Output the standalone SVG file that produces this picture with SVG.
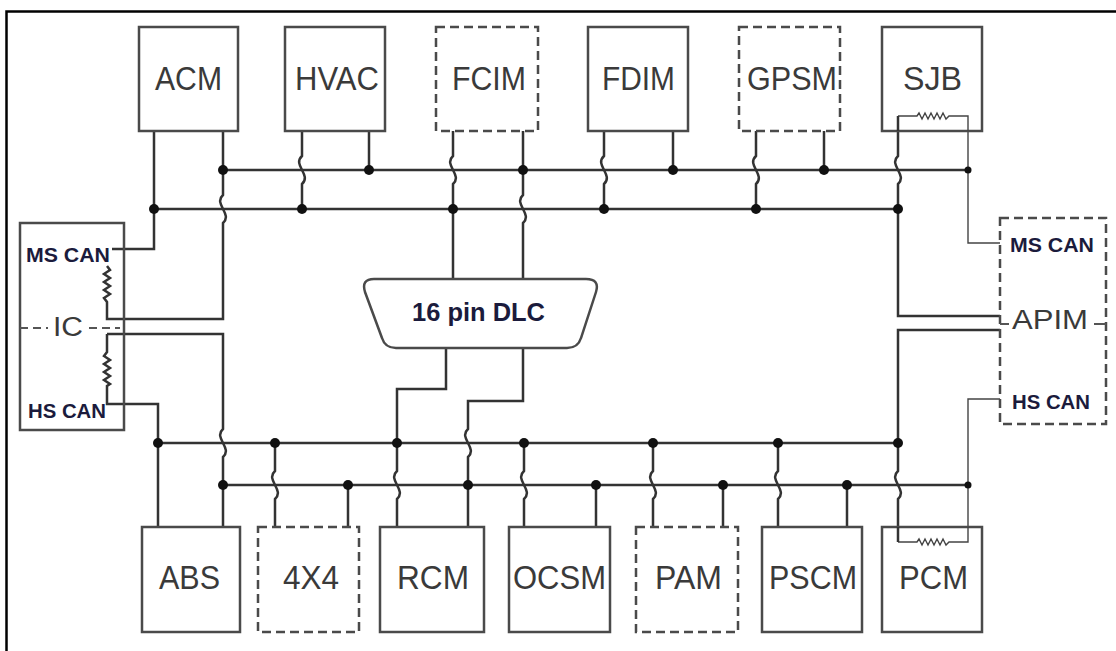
<svg xmlns="http://www.w3.org/2000/svg" width="1116" height="651" viewBox="0 0 1116 651">
<style>
.box{fill:#fff;stroke:#4a4a4a;stroke-width:2.5}
.dash{stroke-dasharray:9 5}
.w{fill:none;stroke:#333;stroke-width:2.5;stroke-linejoin:miter}
.thin{fill:none;stroke:#444;stroke-width:1.4}
.lbl{font-family:"Liberation Sans",Arial,sans-serif;fill:#3a3a3a}
.can{font-family:"Liberation Sans",Arial,sans-serif;font-weight:bold;font-size:20px;fill:#1b1b3c}
.dot{fill:#111}
</style>
<rect x="0" y="0" width="1116" height="651" fill="#fff"/>
<path d="M6.5,651 V11.5 H1116" fill="none" stroke="#000" stroke-width="2.5"/>

<g id="connectors">
  <!-- buses -->
  <path class="w" d="M223,170 H968"/>
  <path class="w" d="M154,209 H898"/>
  <path class="w" d="M158,443 H898"/>
  <path class="w" d="M223,485 H968"/>
  <!-- top legs -->
  <path class="w" d="M154,131 V249 H112"/>
  <path class="w" d="M223,131 V195 C213,204 233,214 223,223 V319 H107 V302 L104,298 L110,294 L104,290 L110,286 L104,282 L110,278 L104,274 L110,270 L107,266"/>
  <path class="w" d="M302,131 V156 C292,165 312,175 302,184 V209"/>
  <path class="w" d="M369,131 V170"/>
  <path class="w" d="M453,131 V156 C443,165 463,175 453,184 V279"/>
  <path class="w" d="M523,131 V195 C513,204 533,214 523,223 V279"/>
  <path class="w" d="M604,131 V156 C594,165 614,175 604,184 V209"/>
  <path class="w" d="M673,131 V170"/>
  <path class="w" d="M756,131 V156 C746,165 766,175 756,184 V209"/>
  <path class="w" d="M824,131 V170"/>
  <path class="w" d="M898,116 V156 C888,165 908,175 898,184 V316 H1000"/>
  <path class="thin" d="M898,116 H917 L919,113 L922,119 L925,113 L928,119 L931,113 L934,119 L937,113 L940,119 L943,113 L946,119 L949,116 H968 V243 H1000"/>
  <!-- bottom legs -->
  <path class="w" d="M107,334 V352 L104,356 L110,360 L104,364 L110,368 L104,372 L110,376 L104,380 L110,384 L107,386 V404 H158 V527"/>
  <path class="w" d="M107,334 H223 V429 C213,438 233,448 223,457 V527"/>
  <path class="w" d="M275,443 V471 C265,480 285,490 275,499 V527"/>
  <path class="w" d="M348,485 V527"/>
  <path class="w" d="M446,348 V389 H397 V471 C387,480 407,490 397,499 V527"/>
  <path class="w" d="M523,348 V401 H468 V429 C458,438 478,448 468,457 V527"/>
  <path class="w" d="M524,443 V471 C514,480 534,490 524,499 V527"/>
  <path class="w" d="M596,485 V527"/>
  <path class="w" d="M653,443 V471 C643,480 663,490 653,499 V527"/>
  <path class="w" d="M723,485 V527"/>
  <path class="w" d="M778,443 V471 C768,480 788,490 778,499 V527"/>
  <path class="w" d="M847,485 V527"/>
  <path class="w" d="M1000,330 H898 V471 C888,480 908,490 898,499 V542"/>
  <path class="thin" d="M898,542 H917 L919,539 L922,545 L925,539 L928,545 L931,539 L934,545 L937,539 L940,545 L943,539 L946,545 L949,542 H968 V399 H1000"/>
  <!-- junction dots -->
  <g class="dot">
    <circle cx="223" cy="170" r="5"/><circle cx="369" cy="170" r="5"/><circle cx="523" cy="170" r="5"/>
    <circle cx="673" cy="170" r="5"/><circle cx="824" cy="170" r="5"/><circle cx="968" cy="170" r="3.5"/>
    <circle cx="154" cy="209" r="5"/><circle cx="302" cy="209" r="5"/><circle cx="453" cy="209" r="5"/>
    <circle cx="604" cy="209" r="5"/><circle cx="756" cy="209" r="5"/><circle cx="898" cy="209" r="5"/>
    <circle cx="158" cy="443" r="5"/><circle cx="275" cy="443" r="5"/><circle cx="397" cy="443" r="5"/>
    <circle cx="524" cy="443" r="5"/><circle cx="653" cy="443" r="5"/><circle cx="778" cy="443" r="5"/>
    <circle cx="898" cy="443" r="5"/>
    <circle cx="223" cy="485" r="5"/><circle cx="348" cy="485" r="5"/><circle cx="468" cy="485" r="5"/>
    <circle cx="596" cy="485" r="5"/><circle cx="723" cy="485" r="5"/><circle cx="847" cy="485" r="5"/>
    <circle cx="968" cy="485" r="3.5"/>
  </g>
</g>

<g id="ACM"><rect class="box" x="139" y="27" width="99" height="104"/><text class="lbl" x="155" y="89.5" font-size="34" textLength="67" lengthAdjust="spacingAndGlyphs">ACM</text></g>
<g id="HVAC"><rect class="box" x="285" y="27" width="100" height="104"/><text class="lbl" x="295" y="89.5" font-size="34" textLength="84" lengthAdjust="spacingAndGlyphs">HVAC</text></g>
<g id="FCIM"><rect class="box dash" x="436" y="27" width="102" height="104"/><text class="lbl" x="452" y="89.5" font-size="34" textLength="74" lengthAdjust="spacingAndGlyphs">FCIM</text></g>
<g id="FDIM"><rect class="box" x="588" y="27" width="100" height="104"/><text class="lbl" x="602" y="89.5" font-size="34" textLength="73" lengthAdjust="spacingAndGlyphs">FDIM</text></g>
<g id="GPSM"><rect class="box dash" x="739" y="27" width="101" height="104"/><text class="lbl" x="747" y="89.5" font-size="34" textLength="90" lengthAdjust="spacingAndGlyphs">GPSM</text></g>
<g id="SJB"><rect class="box" x="882" y="27" width="100" height="104"/><text class="lbl" x="903" y="89.5" font-size="34" textLength="59" lengthAdjust="spacingAndGlyphs">SJB</text></g>
<!-- re-draw SJB resistor on top of box fill -->
<path class="thin" d="M898,116 H917 L919,113 L922,119 L925,113 L928,119 L931,113 L934,119 L937,113 L940,119 L943,113 L946,119 L949,116 H968 V131"/>
<path class="w" d="M898,116 V131"/>

<g id="ABS"><rect class="box" x="142" y="527" width="98" height="105"/><text class="lbl" x="159" y="589" font-size="33" textLength="61" lengthAdjust="spacingAndGlyphs">ABS</text></g>
<g id="4X4"><rect class="box dash" x="258" y="527" width="101" height="105"/><text class="lbl" x="283" y="589" font-size="33" textLength="56" lengthAdjust="spacingAndGlyphs">4X4</text></g>
<g id="RCM"><rect class="box" x="380" y="527" width="104" height="105"/><text class="lbl" x="397" y="589" font-size="33" textLength="72" lengthAdjust="spacingAndGlyphs">RCM</text></g>
<g id="OCSM"><rect class="box" x="509" y="527" width="101" height="105"/><text class="lbl" x="513" y="589" font-size="33" textLength="93" lengthAdjust="spacingAndGlyphs">OCSM</text></g>
<g id="PAM"><rect class="box dash" x="636" y="527" width="102" height="105"/><text class="lbl" x="655" y="589" font-size="33" textLength="67" lengthAdjust="spacingAndGlyphs">PAM</text></g>
<g id="PSCM"><rect class="box" x="762" y="527" width="100" height="105"/><text class="lbl" x="769" y="589" font-size="33" textLength="88" lengthAdjust="spacingAndGlyphs">PSCM</text></g>
<g id="PCM"><rect class="box" x="882" y="527" width="100" height="105"/><text class="lbl" x="899" y="589" font-size="33" textLength="69" lengthAdjust="spacingAndGlyphs">PCM</text></g>
<!-- PCM resistor drawn over box -->
<path class="thin" d="M898,542 H917 L919,539 L922,545 L925,539 L928,545 L931,539 L934,545 L937,539 L940,545 L943,539 L946,545 L949,542 H968 V527"/>
<path class="w" d="M898,527 V542"/>

<g id="IC">
  <rect x="20" y="223" width="104" height="207" fill="none" stroke="#4a4a4a" stroke-width="2.5"/>
  <path d="M20,328 H48 M89,328 H120" stroke="#555" stroke-width="2" stroke-dasharray="8 5" fill="none"/>
  <text class="lbl" x="53" y="336" font-size="27" fill="#444" textLength="30" lengthAdjust="spacingAndGlyphs">IC</text>
  <text class="can" x="26" y="262" textLength="84" lengthAdjust="spacingAndGlyphs">MS CAN</text>
  <text class="can" x="28" y="418" textLength="78" lengthAdjust="spacingAndGlyphs">HS CAN</text>
</g>

<g id="APIM">
  <rect x="1000" y="218" width="106" height="206" fill="none" stroke="#4a4a4a" stroke-width="2.5" stroke-dasharray="9 5"/>
  <path d="M1000,324 H1009 M1094,324 H1106" stroke="#555" stroke-width="2" fill="none"/>
  <text class="lbl" x="1012" y="329" font-size="27" fill="#444" textLength="76" lengthAdjust="spacingAndGlyphs">APIM</text>
  <text class="can" x="1010" y="252" textLength="84" lengthAdjust="spacingAndGlyphs">MS CAN</text>
  <text class="can" x="1012" y="409" textLength="78" lengthAdjust="spacingAndGlyphs">HS CAN</text>
</g>

<g id="DLC">
  <path d="M374,279 H586 Q600,279 596,292 L581,338 Q578,348 567,348 H396 Q385,348 382,338 L365,292 Q361,279 374,279 Z" fill="#fff" stroke="#4a4a4a" stroke-width="2.5"/>
  <text class="can" x="412" y="321" font-size="25" style="font-size:25px" textLength="133" lengthAdjust="spacingAndGlyphs">16 pin DLC</text>
</g>
</svg>
